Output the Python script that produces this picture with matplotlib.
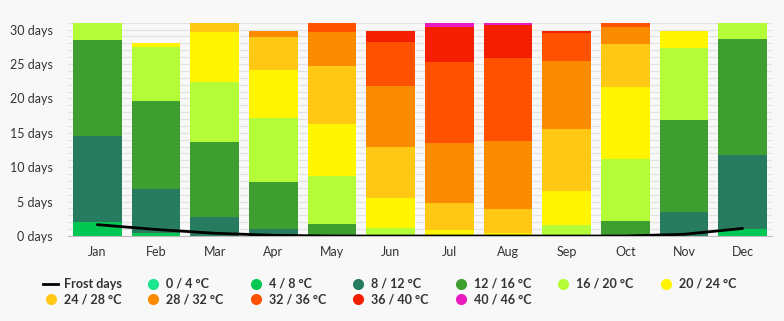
import matplotlib
matplotlib.use("Agg")
import matplotlib.pyplot as plt
from matplotlib.lines import Line2D
import numpy as np

plt.rcParams["font.family"] = ["Lato", "DejaVu Sans"]

months = ["Jan", "Feb", "Mar", "Apr", "May", "Jun", "Jul", "Aug", "Sep", "Oct", "Nov", "Dec"]

# days per month in each temperature class
c0_4 = [0, 0, 0, 0, 0, 0, 0, 0, 0, 0, 0, 0]
c4_8 = [2.0, 0.4, 0, 0, 0, 0, 0, 0, 0, 0, 0, 1.0]
c8_12 = [12.5, 6.4, 2.8, 1.0, 0, 0, 0, 0, 0, 0, 3.5, 10.75]
c12_16 = [14.0, 12.8, 10.9, 6.8, 1.75, 0, 0, 0, 0, 2.2, 13.35, 16.85]
c16_20 = [2.5, 7.9, 8.75, 9.3, 7.0, 1.1, 0, 0, 1.6, 9.0, 10.45, 2.4]
c20_24 = [0, 0.6, 7.15, 7.0, 7.55, 4.4, 0.85, 0.4, 4.95, 10.45, 2.5, 0]
c24_28 = [0, 0, 1.4, 4.8, 8.4, 7.4, 3.95, 3.5, 9.0, 6.25, 0, 0]
c28_32 = [0, 0, 0, 0.9, 4.95, 8.85, 8.7, 9.9, 9.85, 2.5, 0, 0]
c32_36 = [0, 0, 0, 0, 1.35, 6.4, 11.8, 12.1, 4.15, 0.6, 0, 0]
c36_40 = [0, 0, 0, 0, 0, 1.6, 5.1, 4.7, 0.25, 0, 0, 0]
c40_46 = [0, 0, 0, 0, 0, 0, 0.6, 0.4, 0, 0, 0, 0]

frost_days = [1.65, 0.95, 0.4, 0.1, 0, 0, 0, 0, 0, 0, 0.25, 1.1]

classes = ["0 / 4 °C", "4 / 8 °C", "8 / 12 °C", "12 / 16 °C", "16 / 20 °C", "20 / 24 °C",
           "24 / 28 °C", "28 / 32 °C", "32 / 36 °C", "36 / 40 °C", "40 / 46 °C"]
series = [c0_4, c4_8, c8_12, c12_16, c16_20, c20_24, c24_28, c28_32, c32_36, c36_40, c40_46]
colors = ["#1ae68c", "#02c853", "#277b5e", "#3e9e2f", "#b4fc37", "#fff500",
          "#fec815", "#fa8a00", "#fe5200", "#f41f00", "#e81cc0"]

BG = "#f8f8f8"
TXT = "#333333"

fig = plt.figure(figsize=(7.84, 3.21), dpi=100, facecolor=BG)
ax = fig.add_axes([68 / 784, 1 - 236 / 321, 704 / 784, (236 - 22.7) / 321], facecolor=BG)

x = np.arange(len(months))
bottom = np.zeros(len(months))
for vals, col in zip(series, colors):
    ax.bar(x, vals, width=0.835, bottom=bottom, color=col, edgecolor="none", zorder=2)
    bottom += np.array(vals)

ax.plot(x, frost_days, color="black", lw=2, zorder=3, solid_capstyle="round")

ax.set_xlim(-0.5, 11.5)
ax.set_ylim(0, 31)
ax.set_yticks(range(0, 31, 5))
ax.set_yticklabels([f"{v} days" for v in range(0, 31, 5)])
ax.set_yticks(range(0, 32), minor=True)
ax.set_xticks(x)
ax.set_xticklabels(months)
ax.grid(True, which="both", axis="y", color="#e2e2e2", lw=0.8, zorder=0)
ax.tick_params(axis="both", which="both", length=0, colors=TXT, labelsize=9)
ax.tick_params(axis="y", pad=10.8)
ax.tick_params(axis="x", pad=7.5)
for s in ["top", "right", "left"]:
    ax.spines[s].set_visible(False)
ax.spines["bottom"].set_color("#bbbbbb")

# legend drawn by hand, 7 columns
W, H = 784, 321
col_w = 102.5
items = [("Frost days", None)] + list(zip(classes, colors))
for i, (lab, col) in enumerate(items):
    row, c = divmod(i, 7)
    px = 50.8 + c * col_w
    py = 284 + row * 15
    fx, fy = px / W, 1 - py / H
    if col is None:
        fig.add_artist(Line2D([(px - 7.5) / W, (px + 7.5) / W], [fy, fy], color="black", lw=2,
                              transform=fig.transFigure))
    else:
        fig.add_artist(Line2D([fx], [fy], marker="o", ms=8, color=col, mec="none", ls="none",
                              transform=fig.transFigure))
    fig.text((px + 13) / W, fy, lab, fontsize=9, fontweight="bold", color=TXT,
             va="center", ha="left")

fig.savefig("out.png", dpi=100, facecolor=BG)
